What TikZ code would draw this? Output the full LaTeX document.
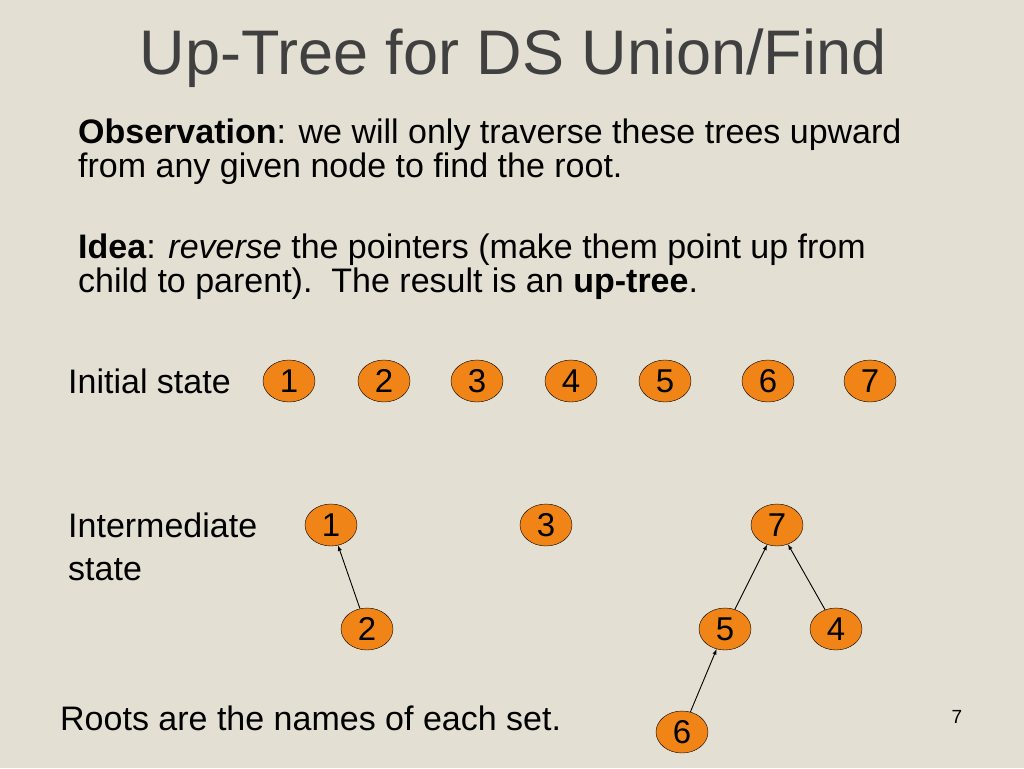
\documentclass[tikz,border=0pt]{standalone}
\usepackage{fontspec}
\setmainfont{Liberation Sans}
\usetikzlibrary{shapes.geometric,arrows}
\definecolor{slidebg}{RGB}{227,223,211}
\definecolor{setorange}{RGB}{240,132,22}
\definecolor{titlegray}{RGB}{64,64,64}

\begin{document}
\begin{tikzpicture}[
      x=1pt,
      y=-1pt,
      elem/.style={
          draw=black,
          fill=setorange,
          ellipse,
          minimum width=52pt,
          minimum height=42pt,
          inner sep=0pt,
          font=\fontsize{33}{33}\selectfont
        },
      txt/.style={
          anchor=west,
          inner sep=0pt,
          font=\fontsize{34}{34}\selectfont
        },
      >=latex
    ]
    \fill[slidebg] (0,0) rectangle (1024,768);
    \useasboundingbox (0,0) rectangle (1024,768);
    \node[inner sep=0pt, text=titlegray, font=\fontsize{63}{63}\selectfont] (title) at (513,58) {Up-Tree for DS Union/Find};
    \node[txt, align=left] (obs) at (78,152) {\textbf{Observation}: we will only traverse these trees upward\\from any given node to find the root.};
    \node[txt, align=left] (idea) at (78,267) {\textbf{Idea}: \textit{reverse} the pointers (make them point up from\\child to parent).\ \ The result is an \textbf{up-tree}.};
    \node[txt] (init) at (68,381) {Initial state};
    \node[txt, align=left, font=\fontsize{34}{43}\selectfont] (inter) at (68,547) {Intermediate\\state};
    \node[txt] (roots) at (60,718) {Roots are the names of each set.};
    \node[inner sep=0pt, font=\fontsize{19}{19}\selectfont] (page) at (957,717) {7};
    % initial state
    \foreach \v/\x in {1/289,2/384,3/477,4/571,5/665,6/768,7/870}
    \node[elem] (i\v) at (\x,381) {\v};
    % intermediate state
    \node[elem] (n1) at (331,525) {1};
    \node[elem] (n3) at (546,525) {3};
    \node[elem] (n7) at (777,525) {7};
    \node[elem] (n2) at (367,629) {2};
    \node[elem] (n5) at (725,629) {5};
    \node[elem] (n4) at (836,629) {4};
    \node[elem] (n6) at (682,732) {6};
    \foreach \c/\p in {n2/n1,n5/n7,n4/n7,n6/n5}
    \draw[->, line width=0.9pt] (\c) -- (\p);
  \end{tikzpicture}
\end{document}
